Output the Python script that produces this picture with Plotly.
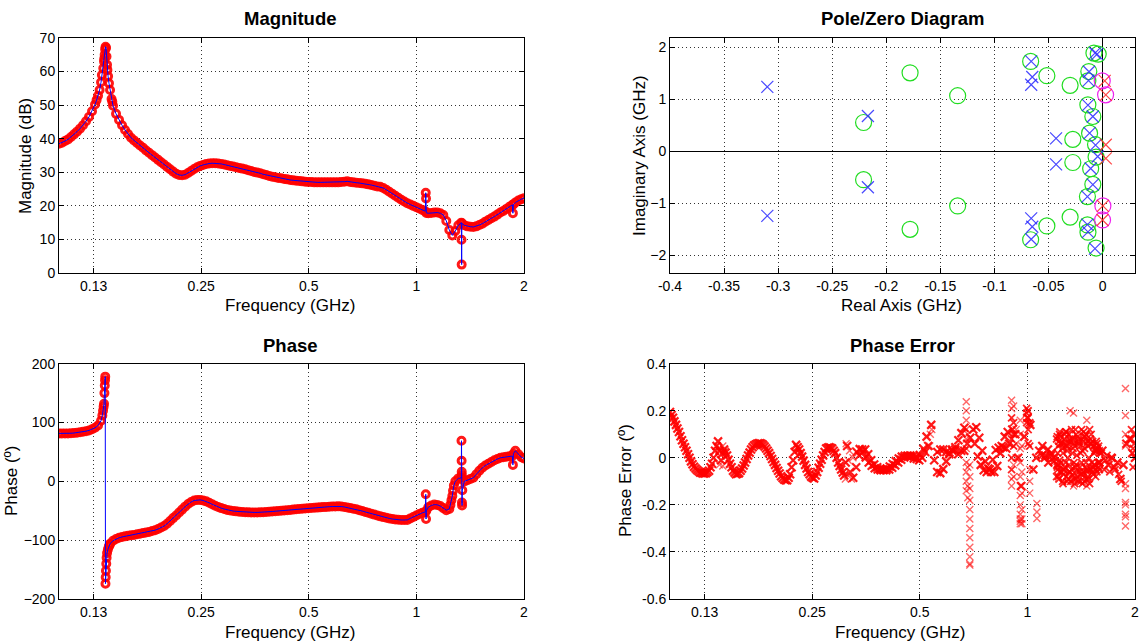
import plotly.graph_objects as go

# ---------------------------------------------------------------------------
# Measured response sampled on a common frequency grid (GHz)
# ---------------------------------------------------------------------------
freq_ghz = [
    0.1000, 0.10195, 0.10394, 0.10597, 0.10804, 0.11015, 0.11230, 0.11450, 0.11673, 0.11901,
    0.12134, 0.12371, 0.12612, 0.12859, 0.13110, 0.13366, 0.13627, 0.13893, 0.14164, 0.14441,
    0.14723, 0.15011, 0.15304, 0.15603, 0.15908, 0.16218, 0.16535, 0.16858, 0.17187, 0.17523,
    0.17865, 0.18216, 0.18572, 0.18935, 0.19305, 0.19682, 0.20066, 0.20458, 0.20858, 0.21265,
    0.21681, 0.22104, 0.22536, 0.22976, 0.23425, 0.23882, 0.24349, 0.24824, 0.25309, 0.25804,
    0.26307, 0.26820, 0.27344, 0.27878, 0.28423, 0.28978, 0.29544, 0.30121, 0.30709, 0.31309,
    0.31920, 0.32544, 0.33179, 0.33827, 0.34488, 0.35162, 0.35849, 0.36549, 0.37263, 0.37990,
    0.38732, 0.39489, 0.40260, 0.41046, 0.41848, 0.42665, 0.43498, 0.44348, 0.45214, 0.46097,
    0.46997, 0.47915, 0.48851, 0.49805, 0.50778, 0.51769, 0.52780, 0.53811, 0.54862, 0.55933,
    0.57026, 0.58139, 0.59275, 0.60432, 0.61612, 0.62816, 0.64042, 0.65293, 0.66568, 0.67868,
    0.69193, 0.70545, 0.71923, 0.73327, 0.74759, 0.76219, 0.77708, 0.79225, 0.80772, 0.82350,
    0.83958, 0.85598, 0.87269, 0.88974, 0.90711, 0.92483, 0.94289, 0.96130, 0.98007, 0.99921,
    1.0187, 1.0386, 1.0589, 1.0796, 1.1007, 1.1222, 1.1441, 1.1664, 1.1892, 1.2124,
    1.2361, 1.2603, 1.2849, 1.3100, 1.3356, 1.3617, 1.3883, 1.4154, 1.4430, 1.4712,
    1.4999, 1.5292, 1.5591, 1.5895, 1.6206, 1.6522, 1.6845, 1.7174, 1.7509, 1.7851,
    1.8200, 1.8555, 1.8918, 1.9287, 1.9664, 2.0000,
]

mag_db = [
    38.5, 38.8, 39.3, 39.8, 40.5, 41.3, 42.1, 43.0, 44.0, 45.2,
    46.5, 48.2, 50.2, 52.8, 56.8, 63.0, 62.0, 54.5, 49.8, 47.4,
    45.6, 44.0, 42.6, 41.4, 40.3, 39.5, 38.7, 38.0, 37.3, 36.5,
    35.8, 35.1, 34.4, 33.7, 33.0, 32.3, 31.6, 30.9, 30.2, 29.6,
    29.2, 29.1, 29.3, 29.8, 30.4, 31.0, 31.5, 31.9, 32.2, 32.5,
    32.6, 32.7, 32.7, 32.6, 32.5, 32.3, 32.1, 31.9, 31.7, 31.5,
    31.3, 31.1, 30.9, 30.6, 30.4, 30.1, 29.9, 29.7, 29.4, 29.2,
    28.9, 28.7, 28.5, 28.3, 28.2, 28.0, 27.9, 27.7, 27.6, 27.5,
    27.4, 27.3, 27.2, 27.1, 27.1, 27.0, 27.0, 27.0, 27.0, 27.0,
    27.0, 27.0, 27.0, 27.0, 27.1, 27.2, 27.3, 27.1, 27.0, 26.9,
    26.8, 26.7, 26.6, 26.4, 26.2, 26.0, 25.8, 25.7, 25.3, 24.8,
    24.2, 23.6, 23.0, 22.4, 21.8, 21.3, 20.8, 20.4, 20.0, 19.6,
    19.2, 18.8, 18.4, 17.8, 17.9, 18.0, 18.0, 17.8, 17.3, 15.5,
    12.8, 11.2, 12.5, 14.2, 15.0, 14.2, 13.9, 13.8, 13.7, 13.9,
    14.3, 14.7, 15.3, 15.8, 16.3, 16.8, 17.4, 18.0, 18.5, 19.1,
    19.7, 20.3, 21.0, 21.6, 22.0, 22.3,
]

phase_deg = [
    81.5, 81.3, 81.2, 81.4, 81.8, 82.2, 82.8, 83.5, 84.3, 85.3,
    86.6, 88.5, 91.0, 95.0, 103.0, 132.0, -122.0, -106.0, -101.0, -98.0,
    -96.0, -94.5, -93.5, -92.5, -91.5, -91.0, -90.0, -89.0, -88.0, -87.0,
    -86.0, -84.5, -83.0, -81.0, -78.5, -76.0, -72.0, -67.5, -62.5, -58.0,
    -53.0, -48.0, -43.0, -38.5, -35.0, -32.5, -31.5, -31.5, -32.5, -34.0,
    -36.5, -39.0, -41.5, -43.5, -45.5, -47.0, -48.5, -49.5, -50.5, -51.0,
    -51.5, -52.0, -52.5, -52.7, -52.8, -52.8, -52.8, -52.7, -52.5, -52.2,
    -51.8, -51.3, -50.8, -50.3, -49.9, -49.5, -49.0, -48.5, -48.0, -47.5,
    -47.0, -46.6, -46.2, -45.8, -45.4, -45.0, -44.6, -44.2, -43.8, -43.4,
    -43.1, -42.8, -42.6, -42.5, -42.8, -43.5, -44.5, -45.5, -46.5, -47.5,
    -49.0, -50.5, -52.0, -53.5, -55.0, -56.5, -58.0, -59.5, -60.8, -62.0,
    -63.0, -64.0, -64.8, -65.4, -65.7, -65.7, -65.5, -63.0, -60.5, -58.0,
    -55.5, -53.5, -52.0, -44.0, -41.0, -39.5, -40.0, -42.0, -45.5, -49.0,
    -47.0, -25.0, 0.0, 5.0, 6.0, 0.0, 2.0, 4.0, 6.0, 12.0,
    18.0, 23.0, 27.0, 30.0, 33.0, 36.0, 38.0, 40.0, 41.0, 42.0,
    42.5, 43.0, 52.0, 46.0, 41.0, 39.0,
]

# Extra samples: resonance near 0.135 GHz, steep slopes and narrow spikes
mag_extra_ghz = [0.1274, 0.1299, 0.1318, 0.1330, 0.1338,
                 0.1342, 0.1346, 0.1350, 0.1354, 0.1358,
                 0.1366, 0.1372, 0.1380, 0.1403, 0.1410,
                 1.0620, 1.0640, 1.0660,
                 1.3370, 1.3385, 1.3400,
                 1.8620, 1.8680]
mag_extra_db = [51.5, 54.5, 59.0, 61.0, 63.8,
                65.0, 66.6, 67.4, 67.0, 64.5,
                60.5, 58.6, 56.5, 51.8, 51.0,
                23.9, 22.2, 17.9,
                9.9, 2.5, 14.8,
                17.8, 20.4]

phase_extra_ghz = [0.1322, 0.1328, 0.1333,
                   0.1340, 0.1343, 0.1345, 0.1347, 0.1349, 0.1351, 0.1353, 0.1356, 0.1359,
                   0.1370, 0.1378, 0.1386,
                   1.0620, 1.0640, 1.0660,
                   1.2450, 1.2530, 1.2660, 1.2730,
                   1.3370, 1.3380, 1.3390, 1.3400, 1.3410, 1.3420, 1.3440,
                   1.8620, 1.8680]
phase_extra_deg = [112.0, 120.0, 127.0,
                   150.0, 163.0, 172.0, 178.0, -174.0, -163.0, -152.0, -140.0, -130.0,
                   -116.0, -111.0, -108.0,
                   -22.0, -64.0, -50.0,
                   -40.0, -32.0, -16.0, -7.0,
                   69.0, 35.0, 16.4, 10.8, -36.0, -41.0, -15.0,
                   28.0, 47.0]

# Phase error of the fitted model (deg) on freq_ghz
phase_err_deg = [
    0.195, 0.17, 0.14, 0.11, 0.075, 0.045, 0.015, -0.015, -0.038, -0.052,
    -0.062, -0.066, -0.065, -0.055, -0.025, 0.03, 0.07, -0.01, 0.035, 0.01,
    -0.025, -0.055, -0.07, -0.065, -0.045, -0.02, 0.01, 0.035, 0.052, 0.06,
    0.062, 0.055, 0.04, 0.02, -0.005, -0.03, -0.055, -0.078, -0.092, -0.095,
    -0.07, -0.01, 0.055, 0.035, 0.005, -0.03, -0.06, -0.08, -0.088, -0.06,
    -0.025, 0.01, 0.04, 0.045, 0.04, 0.02, -0.02, -0.05, -0.075, 0.05,
    -0.06, -0.085, -0.04, 0.01, 0.035, 0.035, 0.015, -0.01, -0.028, -0.04,
    -0.048, -0.052, -0.053, -0.05, -0.042, -0.032, -0.02, -0.008, 0.002, 0.008,
    0.01, 0.008, 0.004, -0.01, 0.0, 0.025, 0.05, 0.14, -0.01, -0.06,
    -0.065, -0.048, -0.015, 0.015, 0.035, 0.035, 0.015, 0.03, 0.03, 0.06,
    0.085, 0.12, 0.13, 0.085, 0.03, -0.015, -0.045, -0.06, -0.06, -0.035,
    0.02, 0.045, 0.04, 0.06, 0.12, 0.1, 0.0, -0.12, 0.09, 0.17,
    0.14, -0.05, 0.0, 0.03, 0.05, 0.01, -0.02, 0.02, 0.0, -0.03,
    0.06, -0.05, 0.05, -0.06, 0.08, -0.04, 0.07, -0.07, 0.09, -0.05,
    0.06, -0.04, 0.03, -0.02, 0.03, -0.01, -0.03, 0.0, -0.04, -0.02,
    -0.09, -0.03, 0.06, 0.08, 0.02, 0.0,
]

# Phase error between grid samples along the smooth part of the band (GHz, deg)
err_mid_ghz = [
    0.1010, 0.1029, 0.1049, 0.1070, 0.1091, 0.1112, 0.1134, 0.1156, 0.1179, 0.1202,
    0.1225, 0.1249, 0.1273, 0.1298, 0.1324, 0.1350, 0.1376, 0.1403, 0.1430, 0.1458,
    0.1487, 0.1516, 0.1545, 0.1576, 0.1607, 0.1638, 0.1670, 0.1702, 0.1736, 0.1769,
    0.1804, 0.1839, 0.1875, 0.1912, 0.1949, 0.1987, 0.2026, 0.2066, 0.2106, 0.2147,
    0.2189, 0.2232, 0.2276, 0.2320, 0.2365, 0.2411, 0.2459, 0.2507, 0.2556, 0.2605,
    0.2656, 0.2708, 0.2761, 0.2815, 0.2870, 0.2926, 0.2983, 0.3042, 0.3101,
    0.3330, 0.3395, 0.3461, 0.3529, 0.3598, 0.3668, 0.3740, 0.3813, 0.3887, 0.3963,
    0.4041, 0.4120, 0.4200, 0.4283, 0.4366, 0.4452, 0.4539, 0.4627, 0.4718, 0.4810,
    0.4904, 0.5000, 0.5119, 0.5223, 0.5598, 0.5707, 0.5818, 0.5932, 0.6048, 0.6166,
    0.6287, 0.6410, 0.6535, 0.6662, 0.7122, 0.7262, 0.7403, 0.7548, 0.7695, 0.7846,
    0.7999, 0.8155, 0.8314, 0.8476, 0.8642, 0.8810, 1.0980, 1.1195, 1.1413, 1.1636,
    1.1863,
]
err_mid_deg = [
    0.182, 0.155, 0.125, 0.092, 0.060, 0.030, 0.000, -0.027, -0.045, -0.057,
    -0.064, -0.066, -0.060, -0.040, 0.000, 0.050, 0.030, 0.020, 0.022, -0.008,
    -0.040, -0.063, -0.068, -0.055, -0.033, -0.005, 0.022, 0.045, 0.057, 0.062,
    0.060, 0.048, 0.030, 0.008, -0.018, -0.043, -0.067, -0.086, -0.095, -0.085,
    -0.040, 0.025, 0.045, 0.020, -0.012, -0.045, -0.070, -0.085, -0.075, -0.042,
    -0.008, 0.025, 0.043, 0.043, 0.030, 0.000, -0.035, -0.062, -0.020,
    0.025, 0.037, 0.025, 0.002, -0.020, -0.034, -0.044, -0.050, -0.053, -0.052,
    -0.046, -0.037, -0.026, -0.014, -0.003, 0.005, 0.009, 0.009, 0.006, -0.003,
    -0.005, 0.012, 0.038, 0.090, 0.025, 0.035, 0.035, 0.025, 0.022, 0.030,
    0.045, 0.075, 0.105, 0.128, 0.060, 0.006, -0.030, -0.053, -0.060, -0.050,
    -0.008, 0.033, 0.043, 0.050, 0.090, 0.110, 0.010, 0.000, 0.035, 0.010,
    -0.015,
]

# Dense, noisy phase-error samples above 0.9 GHz (GHz, deg)
err_cloud_ghz = (
    [0.9030] * 4 + [0.9150] * 3 + [0.9950] * 3 + [1.0050] * 4 + [1.0150] * 2
    + [1.2065, 1.2065, 1.2302, 1.2302, 1.2543, 1.2543, 1.2789, 1.2789,
       1.3039, 1.3039, 1.3293, 1.3293, 1.3556, 1.3556, 1.3819, 1.3819,
       1.4091, 1.4091, 1.4362, 1.4362, 1.4641, 1.4641, 1.4932, 1.4932,
       1.5223, 1.5223, 1.5519, 1.5519, 1.5822, 1.5822]
    + [1.215, 1.215, 1.225, 1.225, 1.240, 1.240, 1.262, 1.262, 1.272, 1.272,
       1.292, 1.292, 1.315, 1.315, 1.342, 1.342, 1.368, 1.368, 1.395, 1.395,
       1.425, 1.425, 1.450, 1.450, 1.478, 1.478, 1.508, 1.508, 1.535, 1.535,
       1.565, 1.565, 1.595, 1.595]
    + [1.212, 1.212, 1.220, 1.220, 1.232, 1.232, 1.246, 1.246, 1.258, 1.258,
       1.268, 1.268, 1.285, 1.285, 1.298, 1.298, 1.308, 1.308, 1.322, 1.322,
       1.335, 1.335, 1.350, 1.350, 1.362, 1.362, 1.375, 1.375, 1.388, 1.388,
       1.402, 1.402, 1.418, 1.418, 1.432, 1.432, 1.445, 1.445, 1.458, 1.458,
       1.470, 1.470, 1.485, 1.485, 1.500, 1.500, 1.515, 1.515, 1.528, 1.528,
       1.545, 1.545, 1.558, 1.558, 1.575, 1.575, 1.590, 1.590]
    + [1.61, 1.64, 1.67, 1.70, 1.73, 1.76, 1.80, 1.83]
    + [1.9550, 1.9550, 1.9750, 1.9750, 1.9900, 1.9900]
)
err_cloud_deg = (
    [0.17, 0.08, 0.0, -0.05]
    + [0.15, 0.10, 0.05]
    + [0.21, 0.19, 0.15]
    + [0.20, 0.17, 0.12, 0.06]
    + [0.15, 0.05]
    + [0.08, -0.08, 0.10, -0.06, 0.04, -0.10, 0.11, -0.02,
       -0.09, 0.07, 0.12, -0.05, -0.11, 0.05, 0.09, -0.08,
       -0.10, 0.02, 0.11, -0.07, -0.09, 0.06, 0.12, -0.11,
       0.07, -0.06, 0.04, -0.08, 0.05, -0.04]
    + [0.02, -0.05, 0.07, -0.09, -0.02, 0.09, 0.06, -0.07, -0.04, 0.10,
       0.03, -0.10, -0.06, 0.08, 0.04, -0.09, 0.10, -0.03, -0.06, 0.06,
       0.03, -0.11, -0.04, 0.09, 0.05, -0.08, -0.05, 0.10, 0.02, -0.03,
       0.06, -0.06, 0.02, -0.02]
    + [0.09, -0.04, -0.08, 0.05, 0.11, -0.01, -0.06, 0.06, 0.02, -0.11,
       0.08, -0.05, -0.08, 0.11, 0.05, 0.0, -0.03, 0.10, 0.07, -0.10,
       -0.07, 0.02, 0.06, -0.02, -0.09, 0.12, 0.01, -0.06, 0.08, -0.10,
       0.05, -0.04, -0.02, 0.12, 0.07, -0.06, -0.10, 0.04, 0.10, -0.02,
       -0.06, 0.07, 0.0, -0.09, 0.08, -0.05, -0.02, 0.06, 0.05, -0.07,
       -0.03, 0.03, 0.07, -0.05, -0.02, 0.04, 0.03, -0.05]
    + [0.02, -0.05, 0.01, -0.06, 0.0, -0.05, -0.07, -0.10]
    + [0.12, 0.08, 0.04, -0.04, 0.10, 0.06]
)

# Isolated phase-error outliers (GHz, deg)
err_scatter_ghz = (
    [0.1375, 0.1375, 0.1405, 0.1405, 0.1425]
    + [0.3095, 0.3110, 0.3150, 0.3180, 0.3220, 0.3250]
    + [0.5330, 0.5350, 0.5400]
    + [0.6744] * 10 + [0.6810] * 4 + [0.6900] * 12
    + [0.9030] * 4 + [0.9150] * 3 + [0.9300] * 3
    + [0.9550] * 12 + [0.9650] * 6
    + [1.0150] * 3
    + [1.0630] * 3
    + [1.3170, 1.3460, 1.4660, 1.3460, 1.4660]
    + [1.8810] * 11
)
err_scatter_deg = (
    [0.04, -0.03, 0.05, -0.035, 0.03]
    + [-0.09, 0.06, -0.01, 0.03, -0.09, 0.0]
    + [0.05, 0.10, 0.12]
    + [0.238, 0.20, 0.16, 0.12, 0.08, 0.04, -0.02, -0.06, -0.10, -0.14]
    + [0.10, -0.04, -0.12, -0.17]
    + [-0.03, -0.08, -0.13, -0.18, -0.22, -0.26, -0.30, -0.34, -0.38, -0.42, -0.45, -0.456]
    + [0.245, 0.21, -0.09, -0.12]
    + [0.22, -0.03, -0.08]
    + [0.12, 0.06, 0.0]
    + [0.16, 0.10, 0.04, -0.02, -0.08, -0.12, -0.16, -0.20, -0.24, -0.26, -0.27, -0.28]
    + [0.05, -0.06, -0.15, -0.22, -0.26, -0.28]
    + [-0.05, -0.10, -0.15]
    + [-0.194, -0.23, -0.258]
    + [0.20, 0.19, 0.16, -0.12, -0.12]
    + [0.295, 0.18, 0.10, 0.05, -0.11, -0.13, -0.19, -0.20, -0.24, -0.25, -0.29]
)

# ---------------------------------------------------------------------------
# Poles and zeros (GHz)
# ---------------------------------------------------------------------------
pole_re = [-0.310, -0.310, -0.217, -0.217, -0.066, -0.066, -0.065, -0.065, -0.066, -0.066,
           -0.043, -0.043, -0.007, -0.005, -0.007, -0.0125, -0.0135, -0.013, -0.014,
           -0.0135, -0.014, -0.009, -0.009, -0.012, -0.011, -0.0065, -0.0045]
pole_im = [1.24, -1.24, 0.68, -0.69, 1.73, -1.69, 1.43, -1.45, 1.28, -1.29,
           0.25, -0.25, 1.89, 1.87, -1.87, 1.53, -1.55, 1.36, -1.41,
           0.89, -0.87, 0.67, -0.64, 0.35, -0.33, 0.12, -0.10]

zero_re = [-0.221, -0.221, -0.178, -0.178, -0.134, -0.134, -0.0665, -0.0665, -0.0515, -0.0515,
           -0.030, -0.030, -0.0275, -0.0275, -0.008, -0.004, -0.006, -0.0127, -0.0135,
           -0.0136, -0.014, -0.0136, -0.014, -0.009, -0.009, -0.012, -0.011, -0.0065, -0.006]
zero_im = [0.555, -0.545, 1.51, -1.50, 1.07, -1.05, 1.73, -1.70, 1.455, -1.435,
           1.27, -1.265, 0.23, -0.215, 1.89, 1.87, -1.86, 1.535, -1.555,
           1.355, -1.415, 0.895, -0.87, 0.67, -0.635, 0.35, -0.335, 0.13, -0.11]

pole2_re = [0.002, 0.003, 0.003, 0.003, 0.0003, 0.0]
pole2_im = [1.355, 1.087, 0.127, -0.135, -1.05, -1.32]
zero2_re = [-0.0003, 0.0028, 0.0003, 0.0]
zero2_im = [1.355, 1.087, -1.05, -1.32]

# Axis ticks
freq_tickvals = [0.125, 0.25, 0.5, 1, 2]
freq_ticktext = ["0.13", "0.25", "0.5", "1", "2"]
mag_ticks = [0, 10, 20, 30, 40, 50, 60, 70]
phase_ticks = [-200, -100, 0, 100, 200]
err_ticks = [-0.6, -0.4, -0.2, 0, 0.2, 0.4]
err_ticktext = ["-0.6", "-0.4", "-0.2", "0", "0.2", "0.4"]
re_ticks = [-0.4, -0.35, -0.3, -0.25, -0.2, -0.15, -0.1, -0.05, 0]
re_ticktext = ["-0.4", "-0.35", "-0.3", "-0.25", "-0.2", "-0.15", "-0.1", "-0.05", "0"]
im_ticks = [-2, -1, 0, 1, 2]


def merge(f_main, v_main, f_extra, v_extra):
    pts = sorted(zip(list(f_main) + list(f_extra), list(v_main) + list(v_extra)),
                 key=lambda p: p[0])
    return [p[0] for p in pts], [p[1] for p in pts]


mag_f, mag_v = merge(freq_ghz, mag_db, mag_extra_ghz, mag_extra_db)
ph_f, ph_v = merge(freq_ghz, phase_deg, phase_extra_ghz, phase_extra_deg)

W, H = 1147, 644
FONT = "Liberation Sans, Arial, Helvetica, sans-serif"
RED_O = "rgba(255,0,0,0.9)"
RED_X = "rgba(255,0,0,0.9)"

fig = go.Figure()

# Magnitude: measured samples (red circles) joined by the blue curve
fig.add_trace(go.Scatter(x=mag_f, y=mag_v, mode="markers", xaxis="x", yaxis="y",
                         marker=dict(symbol="circle-open", size=7, color=RED_O,
                                     line=dict(width=3, color=RED_O))))
fig.add_trace(go.Scatter(x=mag_f, y=mag_v, mode="lines", xaxis="x", yaxis="y",
                         line=dict(color="#0000ff", width=1)))

# Pole/Zero diagram
fig.add_trace(go.Scatter(x=zero_re, y=zero_im, mode="markers", xaxis="x2", yaxis="y2",
                         marker=dict(symbol="circle-open", size=16, color="#22dd22",
                                     line=dict(width=1.2, color="#22dd22"))))
fig.add_trace(go.Scatter(x=pole_re, y=pole_im, mode="markers", xaxis="x2", yaxis="y2",
                         marker=dict(symbol="x-thin", size=12,
                                     line=dict(width=1.2, color="rgba(40,40,255,0.85)"))))
fig.add_trace(go.Scatter(x=zero2_re, y=zero2_im, mode="markers", xaxis="x2", yaxis="y2",
                         marker=dict(symbol="circle-open", size=16, color="#ee22ee",
                                     line=dict(width=1.2, color="#ee22ee"))))
fig.add_trace(go.Scatter(x=pole2_re, y=pole2_im, mode="markers", xaxis="x2", yaxis="y2",
                         marker=dict(symbol="x-thin", size=12,
                                     line=dict(width=1.2, color="rgba(255,40,40,0.85)"))))

# Phase
fig.add_trace(go.Scatter(x=ph_f, y=ph_v, mode="markers", xaxis="x3", yaxis="y3",
                         marker=dict(symbol="circle-open", size=7, color=RED_O,
                                     line=dict(width=3, color=RED_O))))
fig.add_trace(go.Scatter(x=ph_f, y=ph_v, mode="lines", xaxis="x3", yaxis="y3",
                         line=dict(color="#0000ff", width=1)))

# Phase error: isolated outliers (lighter), noisy cloud and the dense band
fig.add_trace(go.Scatter(x=err_scatter_ghz, y=err_scatter_deg, mode="markers",
                         xaxis="x4", yaxis="y4",
                         marker=dict(symbol="x-thin", size=7,
                                     line=dict(width=1.4, color="rgba(255,0,0,0.6)"))))
fig.add_trace(go.Scatter(x=err_cloud_ghz, y=err_cloud_deg, mode="markers",
                         xaxis="x4", yaxis="y4",
                         marker=dict(symbol="x-thin", size=7,
                                     line=dict(width=1.8, color="rgba(255,0,0,0.85)"))))
fig.add_trace(go.Scatter(x=freq_ghz + err_mid_ghz, y=phase_err_deg + err_mid_deg,
                         mode="markers", xaxis="x4", yaxis="y4",
                         marker=dict(symbol="x-thin", size=8,
                                     line=dict(width=2.2, color=RED_X))))

common = dict(showline=True, linecolor="black", linewidth=1, mirror="ticks",
              ticks="inside", ticklen=5, tickcolor="black", showgrid=True,
              gridcolor="#333333", griddash="1px,3px", gridwidth=1, zeroline=False,
              automargin=False,
              tickfont=dict(family=FONT, size=14, color="black"))

left = [59 / W, 524 / W]
right = [670 / W, 1135 / W]
top = [1 - 273 / H, 1 - 38 / H]
bottom = [1 - 599 / H, 1 - 363.7 / H]
log_range = [-1, 0.30103]

fig.update_layout(
    template="none",
    width=W, height=H, margin=dict(l=0, r=0, t=0, b=0, pad=0), autosize=False,
    paper_bgcolor="white", plot_bgcolor="white", showlegend=False,
    xaxis=dict(common, domain=left, anchor="y", type="log", range=log_range,
               tickvals=freq_tickvals, ticktext=freq_ticktext),
    yaxis=dict(common, domain=top, anchor="x", range=[0, 70], tickvals=mag_ticks),
    xaxis2=dict(common, domain=right, anchor="y2", range=[-0.4, 0.03],
                tickvals=re_ticks, ticktext=re_ticktext,
                zeroline=True, zerolinecolor="black", zerolinewidth=1),
    yaxis2=dict(common, domain=top, anchor="x2", range=[-2.34, 2.18], tickvals=im_ticks,
                zeroline=True, zerolinecolor="black", zerolinewidth=1),
    xaxis3=dict(common, domain=left, anchor="y3", type="log", range=log_range,
                tickvals=freq_tickvals, ticktext=freq_ticktext),
    yaxis3=dict(common, domain=bottom, anchor="x3", range=[-200, 200], tickvals=phase_ticks),
    xaxis4=dict(common, domain=right, anchor="y4", type="log", range=log_range,
                tickvals=freq_tickvals, ticktext=freq_ticktext),
    yaxis4=dict(common, domain=bottom, anchor="x4", range=[-0.6, 0.4],
                tickvals=err_ticks, ticktext=err_ticktext),
)


def label(text, px, py, size=17, angle=0, bold=False):
    fig.add_annotation(text=text, x=px / W, y=1 - py / H, xref="paper", yref="paper",
                       showarrow=False, xanchor="center", yanchor="middle",
                       textangle=angle,
                       font=dict(family=FONT, size=size, color="black",
                                 weight="bold" if bold else "normal"))


label("Magnitude", 290, 19, size=18.5, bold=True)
label("Pole/Zero Diagram", 902, 19, size=18.5, bold=True)
label("Phase", 290, 345, size=18.5, bold=True)
label("Phase Error", 902, 345, size=18.5, bold=True)

label("Frequency (GHz)", 290, 306)
label("Real Axis (GHz)", 901, 306)
label("Frequency (GHz)", 290, 632)
label("Frequency (GHz)", 900, 632)

label("Magnitude (dB)", 25, 156, angle=-90)
label("Imaginary Axis (GHz)", 639, 156, angle=-90)
label("Phase (º)", 11, 481, angle=-90)
label("Phase Error (º)", 625, 481, angle=-90)

fig.write_html("out.html")
